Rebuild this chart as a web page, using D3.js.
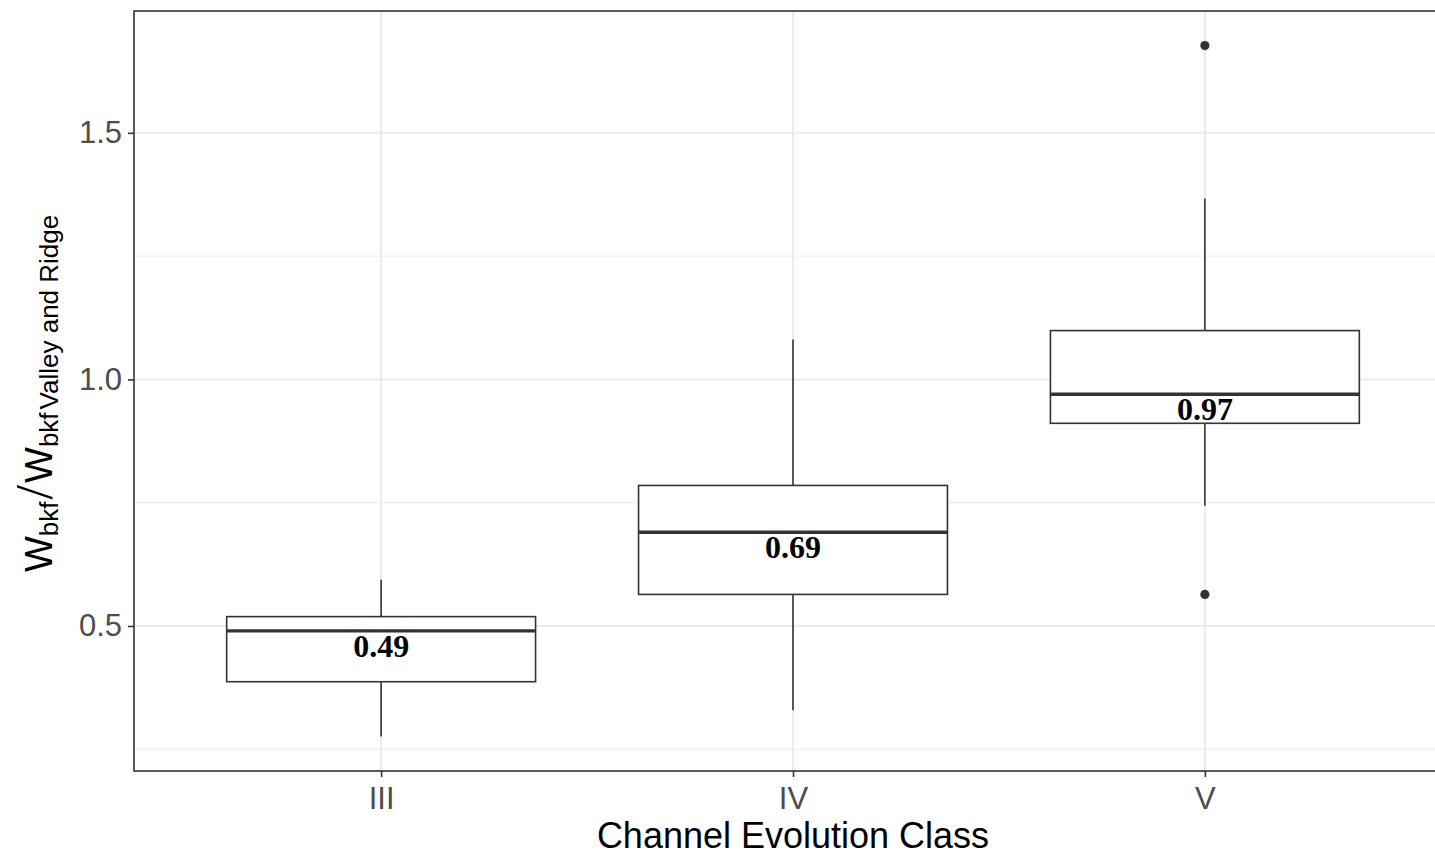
<!DOCTYPE html>
<html>
<head>
<meta charset="utf-8">
<script src="https://cdn.jsdelivr.net/npm/d3@7"></script>
<style>
  html, body { margin: 0; padding: 0; background: #fff; }
  svg { display: block; }
</style>
</head>
<body>
<script>
// Channel evolution classes and their box-plot summaries
const classes   = ["III", "IV", "V"];
const lowerWhisker = [0.276, 0.329, 0.744];
const q1        = [0.387, 0.564, 0.911];
const medians   = [0.49, 0.69, 0.97];
const q3        = [0.519, 0.785, 1.099];
const upperWhisker = [0.594, 1.081, 1.367];
const outliers  = [
  { cls: "V", value: 1.677 },
  { cls: "V", value: 0.564 }
];
const yMajorTicks = [0.5, 1.0, 1.5];
const yMinorTicks = [0.25, 0.75, 1.25, 1.75];

const W = 1435, H = 856;
const panel = { left: 134, top: 11, right: 1452, bottom: 771 };

const svg = d3.select("body").append("svg")
  .attr("width", W).attr("height", H);

// y range spans the data with 5% padding each side
const lo = d3.min([...lowerWhisker, ...outliers.map(d => d.value)]);
const hi = d3.max([...upperWhisker, ...outliers.map(d => d.value)]);
const pad = (hi - lo) * 0.05;
const y = d3.scaleLinear().domain([lo - pad, hi + pad]).range([panel.bottom, panel.top]);
const x = d3.scalePoint().domain(classes).range([panel.left, panel.right]).padding(0.6);
const boxW = x.step() * 0.75;

const g = svg.append("g");

// panel background
g.append("rect")
  .attr("x", panel.left).attr("y", panel.top)
  .attr("width", panel.right - panel.left).attr("height", panel.bottom - panel.top)
  .attr("fill", "#fff");

// grid lines
g.selectAll(".ymin").data(yMinorTicks.filter(v => y(v) >= panel.top && y(v) <= panel.bottom))
  .enter().append("line")
  .attr("x1", panel.left).attr("x2", panel.right)
  .attr("y1", d => y(d)).attr("y2", d => y(d))
  .attr("stroke", "#ebebeb").attr("stroke-width", 1);
g.selectAll(".ymaj").data(yMajorTicks).enter().append("line")
  .attr("x1", panel.left).attr("x2", panel.right)
  .attr("y1", d => y(d)).attr("y2", d => y(d))
  .attr("stroke", "#ebebeb").attr("stroke-width", 2);
g.selectAll(".xmaj").data(classes).enter().append("line")
  .attr("x1", d => x(d)).attr("x2", d => x(d))
  .attr("y1", panel.top).attr("y2", panel.bottom)
  .attr("stroke", "#ebebeb").attr("stroke-width", 2);

// box plots
const boxes = classes.map((c, i) => ({
  cls: c, lw: lowerWhisker[i], q1: q1[i], med: medians[i], q3: q3[i], uw: upperWhisker[i]
}));
const bx = g.selectAll(".box").data(boxes).enter().append("g");
bx.append("line")
  .attr("x1", d => x(d.cls)).attr("x2", d => x(d.cls))
  .attr("y1", d => y(d.uw)).attr("y2", d => y(d.q3))
  .attr("stroke", "#333").attr("stroke-width", 1.6);
bx.append("line")
  .attr("x1", d => x(d.cls)).attr("x2", d => x(d.cls))
  .attr("y1", d => y(d.q1)).attr("y2", d => y(d.lw))
  .attr("stroke", "#333").attr("stroke-width", 1.6);
bx.append("rect")
  .attr("x", d => x(d.cls) - boxW / 2).attr("width", boxW)
  .attr("y", d => y(d.q3)).attr("height", d => y(d.q1) - y(d.q3))
  .attr("fill", "#fff").attr("stroke", "#333").attr("stroke-width", 1.6);
bx.append("line")
  .attr("x1", d => x(d.cls) - boxW / 2).attr("x2", d => x(d.cls) + boxW / 2)
  .attr("y1", d => y(d.med)).attr("y2", d => y(d.med))
  .attr("stroke", "#333").attr("stroke-width", 3.4);

// outlying points
g.selectAll(".out").data(outliers).enter().append("circle")
  .attr("cx", d => x(d.cls)).attr("cy", d => y(d.value))
  .attr("r", 4.6).attr("fill", "#333");

// median labels
bx.append("text")
  .attr("x", d => x(d.cls)).attr("y", d => y(d.med) + 26)
  .attr("text-anchor", "middle")
  .attr("font-family", "'Liberation Serif', 'Times New Roman', serif")
  .attr("font-weight", "bold").attr("font-size", 32)
  .attr("fill", "#000")
  .text(d => d3.format(".2f")(d.med));

// panel border
g.append("rect")
  .attr("x", panel.left).attr("y", panel.top)
  .attr("width", panel.right - panel.left).attr("height", panel.bottom - panel.top)
  .attr("fill", "none").attr("stroke", "#333").attr("stroke-width", 1.6);

// axes
const font = "'Liberation Sans', Arial, sans-serif";
const yAxis = svg.append("g")
  .attr("transform", `translate(${panel.left},0)`)
  .call(d3.axisLeft(y).tickValues(yMajorTicks).tickFormat(d3.format(".1f")).tickSize(6).tickPadding(6));
const xAxis = svg.append("g")
  .attr("transform", `translate(0,${panel.bottom})`)
  .call(d3.axisBottom(x).tickSize(6).tickPadding(10));
[yAxis, xAxis].forEach(a => {
  a.select(".domain").remove();
  a.selectAll(".tick line").attr("stroke", "#333").attr("stroke-width", 1.6);
  a.selectAll(".tick text").attr("fill", "#4d4d4d")
    .attr("font-family", font).attr("font-size", 31);
});

// x-axis title
svg.append("text")
  .attr("x", (panel.left + 1452) / 2).attr("y", 848)
  .attr("text-anchor", "middle")
  .attr("font-family", font).attr("font-size", 36).attr("fill", "#000")
  .text("Channel Evolution Class");

// y-axis title: W_bkf / W_bkf Valley and Ridge
const yt = svg.append("text")
  .attr("transform", "translate(52,572) rotate(-90)")
  .attr("font-family", font).attr("fill", "#000");
yt.append("tspan").attr("font-size", 38).text("W");
yt.append("tspan").attr("font-size", 26).attr("dy", 6).text("bkf");
yt.append("tspan").attr("font-size", 52).attr("dy", -6).attr("dx", 2)
  .attr("font-family", "'Liberation Serif', serif").text("/");
yt.append("tspan").attr("font-size", 38).attr("dx", 2).text("W");
yt.append("tspan").attr("font-size", 26).attr("dy", 6).text("bkf");
yt.append("tspan").attr("font-size", 26).attr("dx", 3).text("Valley and Ridge");
</script>
</body>
</html>
